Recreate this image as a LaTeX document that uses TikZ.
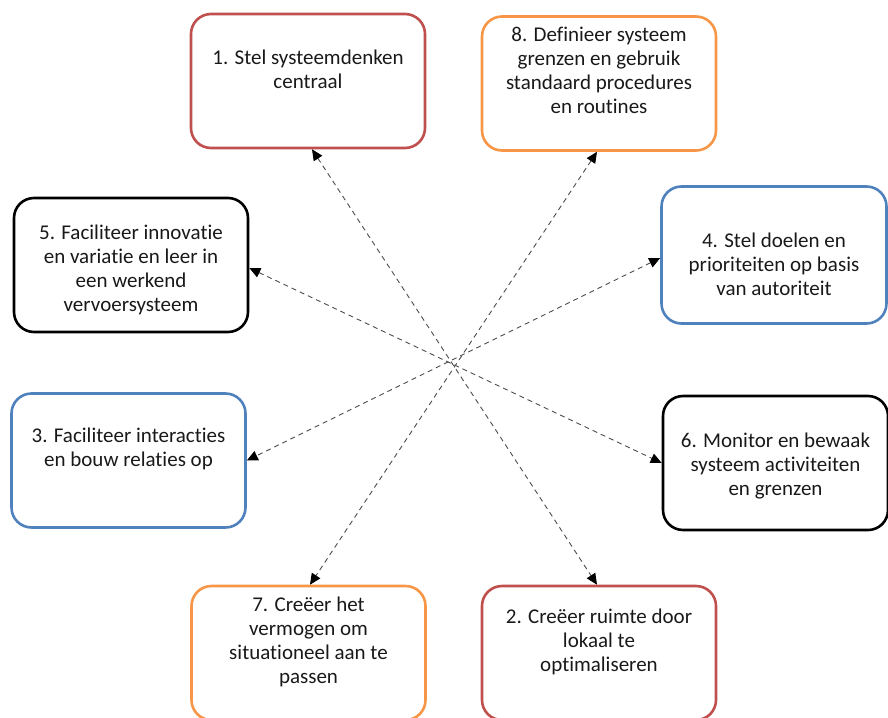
\documentclass[tikz,border=0pt]{standalone}
\usepackage{fontspec}
\setmainfont{Carlito}[Ligatures=NoCommon]
\usetikzlibrary{arrows.meta,positioning}

\definecolor{rojo}{HTML}{C0504D}
\definecolor{naranja}{HTML}{F79646}
\definecolor{azul}{HTML}{4F81BD}

\tikzset{
  caja/.style={rectangle, rounded corners=20pt, line width=2.6pt, minimum width=234pt, minimum height=134pt},
  texto/.style={align=center, font=\fontsize{21}{24}\selectfont, text=black!90},
  flecha/.style={dash pattern=on 5pt off 4pt, line width=0.9pt, draw=black!70,
    {Triangle[length=11pt,width=10pt,black]}-{Triangle[length=11pt,width=10pt,black]}}
}

\begin{document}
\begin{tikzpicture}[x=1pt, y=-1pt] % coordenadas en pixeles
  \useasboundingbox (0,0) rectangle (888,717);
  % cajas
  \node[caja, draw=rojo] (b1) at (308,81) {};
  \node[caja, draw=naranja] (b8) at (599,83.5) {};
  \node[caja, draw=black] (b5) at (131,265) {};
  \node[caja, draw=azul, minimum width=225pt, minimum height=137pt] (b4) at (774,255) {};
  \node[caja, draw=azul] (b3) at (128.5,460.5) {};
  \node[caja, draw=black, minimum width=225pt] (b6) at (775.5,463) {};
  \node[caja, draw=naranja] (b7) at (308.5,653) {};
  \node[caja, draw=rojo] (b2) at (599,653) {};
  % textos
  \node[texto] (t1) at ([yshift=12pt]b1.center) {1. Stel systeemdenken\\centraal};
  \node[texto] (t8) at ([yshift=13.5pt]b8.center) {8. Definieer systeem\\grenzen en gebruik\\standaard procedures\\en routines};
  \node[texto] (t5) at ([yshift=-5pt]b5.center) {5. Faciliteer innovatie\\en variatie en leer in\\een werkend\\vervoersysteem};
  \node[texto] (t4) at ([yshift=-9pt]b4.center) {4. Stel doelen en\\prioriteiten op basis\\van autoriteit};
  \node[texto] (t3) at ([yshift=11.5pt]b3.center) {3. Faciliteer interacties\\en bouw relaties op};
  \node[texto] (t6) at ([yshift=-3pt]b6.center) {6. Monitor en bewaak\\systeem activiteiten\\en grenzen};
  \node[texto] (t7) at ([yshift=11pt]b7.center) {7. Creëer het\\vermogen om\\situationeel aan te\\passen};
  \node[texto] (t2) at ([yshift=11pt]b2.center) {2. Creëer ruimte door\\lokaal te\\optimaliseren};
  % pijlen
  \draw[flecha] ([xshift=4pt]b1.south) -- ([xshift=-2pt]b2.north);
  \draw[flecha] ([xshift=-2pt]b8.south) -- ([xshift=1.5pt]b7.north);
  \draw[flecha] ([yshift=-3pt]b5.east) -- (b6.west);
  \draw[flecha] ([yshift=-3pt]b4.west) -- (b3.east);
\end{tikzpicture}
\end{document}
